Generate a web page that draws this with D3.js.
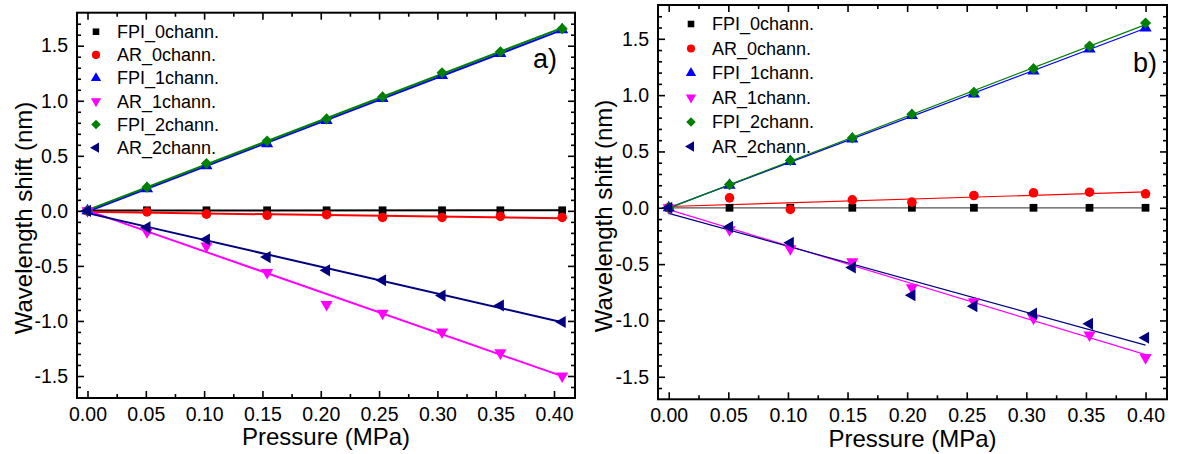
<!DOCTYPE html>
<html>
<head>
<meta charset="utf-8">
<script src="https://cdn.jsdelivr.net/npm/d3@7"></script>
<style>
  body { margin: 0; background: #fff; }
  svg { display: block; font-family: Arial, "Liberation Sans", sans-serif; }
</style>
</head>
<body>
<svg id="chart" width="1177" height="454"></svg>
<script>
// series names, in legend order
var seriesNames = ['FPI_0chann.', 'AR_0chann.', 'FPI_1chann.', 'AR_1chann.', 'FPI_2chann.', 'AR_2chann.'];

// panel a) values
var pressureA = [0, 0.051, 0.102, 0.154, 0.205, 0.253, 0.304, 0.354, 0.407];
var fpi0A = [0, 0.005, 0.005, 0.005, 0.005, 0.005, 0.005, 0.005, 0.005];
var ar0A  = [0, -0.01, -0.03, -0.04, -0.035, -0.06, -0.06, -0.05, -0.06];
var fpi1A = [0, 0.20, 0.41, 0.61, 0.82, 1.02, 1.23, 1.43, 1.645];
var ar1A  = [0, -0.19, -0.32, -0.56, -0.85, -0.93, -1.10, -1.29, -1.50];
var fpi2A = [0, 0.215, 0.43, 0.635, 0.835, 1.035, 1.255, 1.445, 1.655];
var ar2A  = [0, -0.15, -0.26, -0.42, -0.54, -0.63, -0.77, -0.86, -1.01];

// panel b) values
var pressureB = [0, 0.051, 0.102, 0.154, 0.204, 0.256, 0.306, 0.353, 0.400];
var fpi0B = [0, 0, 0, 0, 0, 0, 0, 0, 0];
var ar0B  = [0, 0.088, -0.015, 0.07, 0.05, 0.109, 0.133, 0.138, 0.124];
var fpi1B = [0, 0.20, 0.41, 0.61, 0.82, 1.01, 1.215, 1.41, 1.595];
var ar1B  = [0, -0.195, -0.363, -0.48, -0.71, -0.835, -0.98, -1.13, -1.33];
var fpi2B = [0, 0.206, 0.42, 0.62, 0.83, 1.025, 1.235, 1.435, 1.64];
var ar2B  = [0, -0.17, -0.31, -0.53, -0.776, -0.873, -0.94, -1.03, -1.154];

// ticks
var xTicks = [0, 0.05, 0.10, 0.15, 0.20, 0.25, 0.30, 0.35, 0.40];
var xMinor = [0.025, 0.075, 0.125, 0.175, 0.225, 0.275, 0.325, 0.375];
var yTicks = [-1.5, -1.0, -0.5, 0.0, 0.5, 1.0, 1.5];
var yMinor = [-1.6, -1.4, -1.3, -1.2, -1.1, -0.9, -0.8, -0.7, -0.6, -0.4, -0.3, -0.2, -0.1,
              0.1, 0.2, 0.3, 0.4, 0.6, 0.7, 0.8, 0.9, 1.1, 1.2, 1.3, 1.4, 1.6, 1.7];

var colors = ['#000000', '#ff0000', '#0000ff', '#ff00ff', '#008000', '#000080'];

var svg = d3.select('#chart');

// marker for series index i
function marker(i) {
  var types = [d3.symbolSquare, d3.symbolCircle, d3.symbolTriangle, d3.symbolTriangle, d3.symbolSquare, d3.symbolTriangle];
  var sizes = [60, 72, 64, 64, 62, 64];
  var rot = [0, 0, 0, 180, 45, -90];
  return { path: d3.symbol().type(types[i]).size(sizes[i])(), rot: rot[i] };
}

// simple least squares line
function fit(xs, ys) {
  var mx = d3.mean(xs), my = d3.mean(ys);
  var sxy = d3.sum(xs, function (x, k) { return (x - mx) * (ys[k] - my); });
  var sxx = d3.sum(xs, function (x) { return (x - mx) * (x - mx); });
  var b = sxy / sxx;
  return { a: my - b * mx, b: b };
}

function drawPanel(p) {
  var g = svg.append('g');
  var x = d3.scaleLinear().domain([-0.009, 0.418]).range([p.left, p.right]);
  var y = d3.scaleLinear().domain([-1.7, 1.8]).range([p.bottom, p.top]);

  function axis(gen, scale, ticks, size, fmt, tx, ty) {
    var a = g.append('g').attr('transform', 'translate(' + tx + ',' + ty + ')')
      .call(gen(scale).tickValues(ticks).tickSizeInner(size).tickSizeOuter(0).tickPadding(9)
        .tickFormat(fmt));
    a.select('.domain').remove();
    a.selectAll('line').attr('stroke', '#000').attr('stroke-width', 1.6);
    a.selectAll('text').attr('font-size', 19.5).attr('fill', '#000');
    return a;
  }
  var none = function () { return ''; };
  var fx = function (d) { return d.toFixed(2); };
  var fy = function (d) { return d.toFixed(1); };

  axis(d3.axisBottom, x, xTicks, -7, fx, 0, p.bottom);
  axis(d3.axisBottom, x, xMinor, -4, none, 0, p.bottom);
  axis(d3.axisTop, x, xTicks, -7, none, 0, p.top);
  axis(d3.axisTop, x, xMinor, -4, none, 0, p.top);
  axis(d3.axisLeft, y, yTicks, -7, fy, p.left, 0);
  axis(d3.axisLeft, y, yMinor, -4, none, p.left, 0);
  axis(d3.axisRight, y, yTicks, -7, none, p.right, 0);
  axis(d3.axisRight, y, yMinor, -4, none, p.right, 0);

  g.append('rect')
    .attr('x', p.left).attr('y', p.top)
    .attr('width', p.right - p.left).attr('height', p.bottom - p.top)
    .attr('fill', 'none').attr('stroke', '#000').attr('stroke-width', 2);

  // fit lines
  p.series.forEach(function (ys, i) {
    var f = fit(p.pressure, ys);
    var x0 = 0, x1 = d3.max(p.pressure);
    g.append('line')
      .attr('x1', x(x0)).attr('y1', y(f.a + f.b * x0))
      .attr('x2', x(x1)).attr('y2', y(f.a + f.b * x1))
      .attr('stroke', i === 0 ? p.blackLine : colors[i]).attr('stroke-width', p.lineWidth);
  });

  // markers
  p.series.forEach(function (ys, i) {
    var m = marker(i);
    g.selectAll(null).data(ys).enter().append('path')
      .attr('d', m.path)
      .attr('transform', function (d, k) {
        return 'translate(' + x(p.pressure[k]) + ',' + y(d) + ') rotate(' + m.rot + ')';
      })
      .attr('fill', colors[i]);
  });

  // legend
  seriesNames.forEach(function (name, i) {
    var m = marker(i);
    var ly = p.legendY + i * p.legendStep;
    g.append('path').attr('d', m.path)
      .attr('transform', 'translate(' + p.legendX + ',' + ly + ') rotate(' + m.rot + ') scale(0.85)')
      .attr('fill', colors[i]);
    g.append('text').attr('x', p.legendX + 21).attr('y', ly).attr('dy', '0.35em')
      .attr('font-size', 18).text(name);
  });

  g.append('text').attr('x', p.tagX).attr('y', p.tagY)
    .attr('font-size', 27).text(p.tag);

  g.append('text')
    .attr('transform', 'translate(' + p.yTitleX + ',' + p.yTitleY + ') rotate(-90)')
    .attr('text-anchor', 'middle').attr('font-size', 24)
    .text('Wavelength shift (nm)');

  g.append('text')
    .attr('x', (p.left + p.right) / 2).attr('y', p.xTitleY)
    .attr('text-anchor', 'middle').attr('font-size', 24)
    .text('Pressure (MPa)');
}

drawPanel({
  left: 77, right: 575, top: 12.7, bottom: 398,
  pressure: pressureA,
  series: [fpi0A, ar0A, fpi1A, ar1A, fpi2A, ar2A],
  lineWidth: 2, blackLine: '#000',
  legendX: 96, legendY: 31.7, legendStep: 23.2,
  tag: 'a)', tagX: 533, tagY: 68,
  yTitleX: 32, yTitleY: 218, xTitleY: 445
});

drawPanel({
  left: 658, right: 1167, top: 5, bottom: 399.3,
  pressure: pressureB,
  series: [fpi0B, ar0B, fpi1B, ar1B, fpi2B, ar2B],
  lineWidth: 1.2, blackLine: '#555',
  legendX: 691, legendY: 24, legendStep: 24.5,
  tag: 'b)', tagX: 1133, tagY: 72,
  yTitleX: 612, yTitleY: 216, xTitleY: 447
});
</script>
</body>
</html>
